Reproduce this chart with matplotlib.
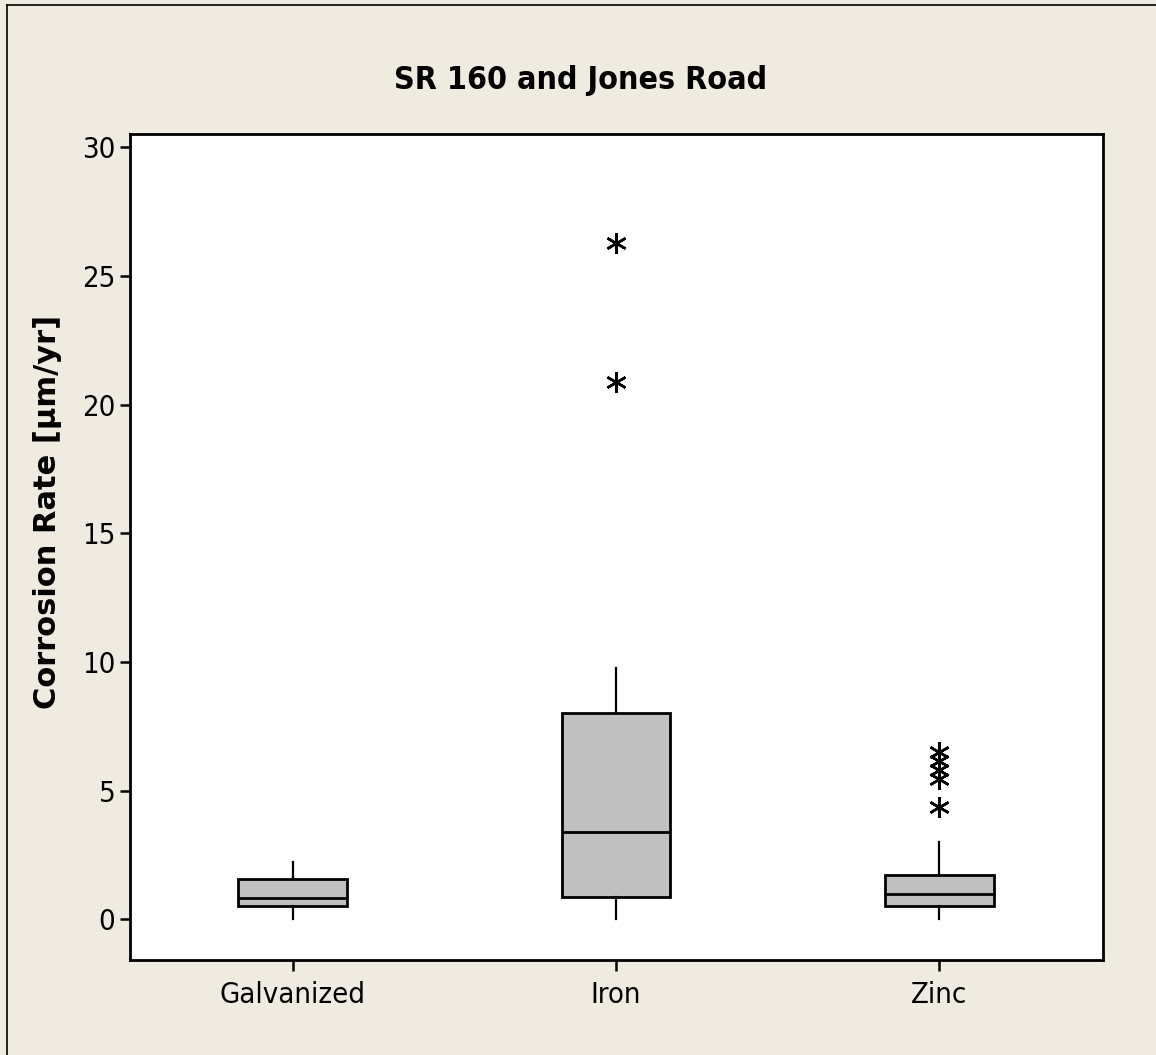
import matplotlib
matplotlib.use("Agg")
import matplotlib.pyplot as plt
from matplotlib import font_manager
from matplotlib.lines import Line2D

# ---- data -------------------------------------------------------------
categories = ["Galvanized", "Iron", "Zinc"]
q1 = [0.52, 0.85, 0.52]
median = [0.84, 3.40, 0.97]
q3 = [1.58, 8.00, 1.72]
whisker_low = [0.0, 0.0, 0.0]
whisker_high = [2.24, 9.75, 3.01]
outliers = [
    [],
    [26.3, 20.9],
    [6.5, 6.15, 5.8, 5.45, 4.35],
]
y_ticks = [0, 5, 10, 15, 20, 25, 30]

title = "SR 160 and Jones Road"
y_label = "Corrosion Rate [µm/yr]"

# ---- fonts --------------------------------------------------------------
installed = {f.name for f in font_manager.fontManager.ttflist}
if "Liberation Sans Narrow" in installed:
    narrow = dict(family="Liberation Sans Narrow")
else:
    narrow = dict(family="DejaVu Sans", stretch="condensed")

bg = "#EFEBE1"
box_fill = "#C0C0C0"

fig = plt.figure(figsize=(11.56, 10.55), dpi=100, facecolor=bg)
ax = fig.add_axes([130 / 1156, 1 - 960 / 1055, (1103 - 130) / 1156, (960 - 134) / 1055])
ax.set_facecolor("white")

stats = []
for i, name in enumerate(categories):
    stats.append(dict(label=name, med=median[i], q1=q1[i], q3=q3[i],
                      whislo=whisker_low[i], whishi=whisker_high[i],
                      fliers=outliers[i]))

ax.bxp(stats, positions=[1, 2, 3], widths=0.337, patch_artist=True,
       showcaps=False,
       boxprops=dict(facecolor=box_fill, edgecolor="black", linewidth=2.0),
       medianprops=dict(color="black", linewidth=2.0),
       whiskerprops=dict(color="black", linewidth=1.6),
       flierprops=dict(marker=(6, 2, 0), markersize=15, markeredgecolor="black",
                       markeredgewidth=1.8, linestyle="none"))

ax.set_xlim(0.496, 3.507)
ax.set_ylim(-1.58, 30.52)
ax.set_yticks(y_ticks)
ax.set_yticklabels([str(v) for v in y_ticks])
ax.set_xticks([1, 2, 3])
ax.set_xticklabels(categories)

for s in ax.spines.values():
    s.set_linewidth(2.0)
    s.set_color("black")

ax.tick_params(axis="both", direction="out", width=1.8, color="black")
ax.tick_params(axis="y", length=7.5, pad=3)
ax.tick_params(axis="x", length=8, pad=7)
tick_font = font_manager.FontProperties(size=21, **narrow)
for lab in ax.get_xticklabels() + ax.get_yticklabels():
    lab.set_fontproperties(tick_font)

fig.text(581 / 1156, 1 - 80 / 1055, title, ha="center", va="center",
         fontsize=23, fontweight="bold", **narrow)
fig.text(48 / 1156, 1 - 512 / 1055, y_label, ha="center", va="center",
         rotation=90, fontsize=22, fontweight="bold", family="DejaVu Sans")

# thin frame along the top and left edges of the figure
fig.add_artist(Line2D([7 / 1156, 7 / 1156], [0, 1 - 5 / 1055],
                      transform=fig.transFigure, color="black", linewidth=1.2))
fig.add_artist(Line2D([7 / 1156, 1], [1 - 5 / 1055, 1 - 5 / 1055],
                      transform=fig.transFigure, color="black", linewidth=1.2))

fig.savefig("out.png", dpi=100, facecolor=bg)
